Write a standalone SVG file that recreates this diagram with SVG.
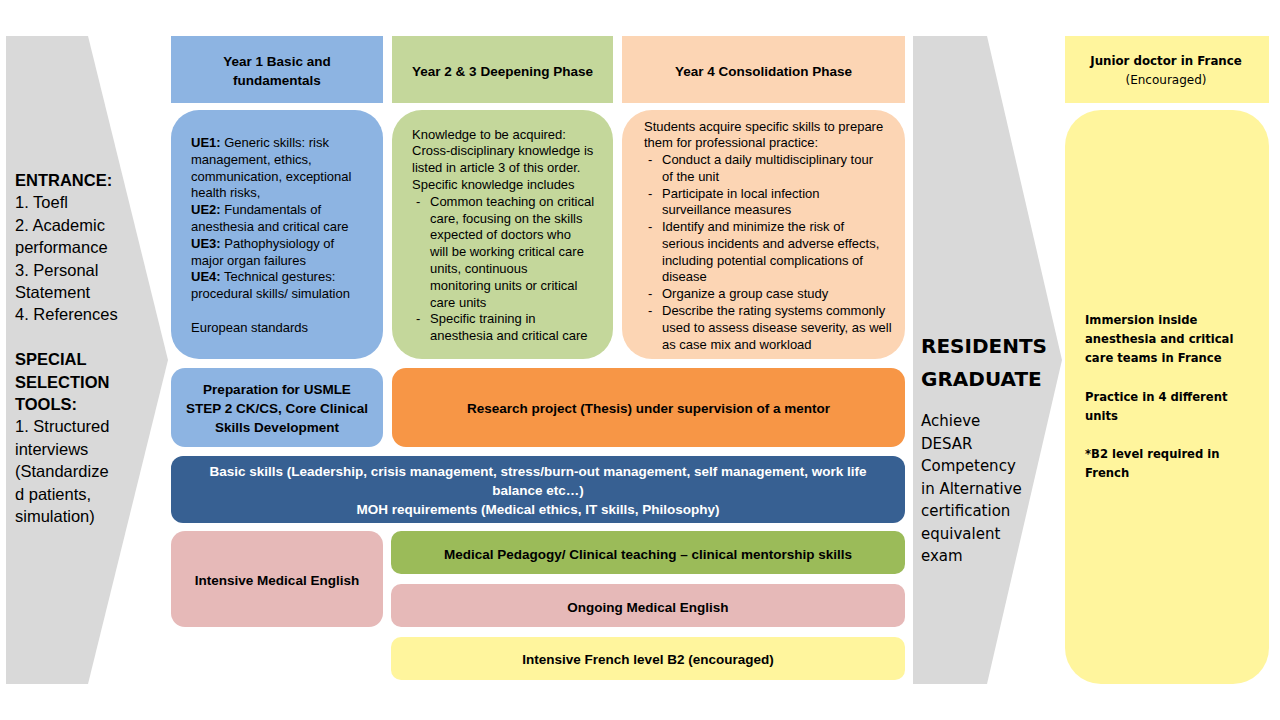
<svg xmlns="http://www.w3.org/2000/svg" width="1280" height="720" viewBox="0 0 1280 720">
<style>
.t{font-family:"Liberation Sans",Arial,sans-serif;font-size:13px;fill:#000}
.b{font-family:"Liberation Sans",Arial,sans-serif;font-size:13.5px;font-weight:bold;fill:#000}
.c{text-anchor:middle}
.w{fill:#fff}
.l{font-family:"Liberation Sans",Arial,sans-serif;font-size:16.5px;fill:#000}
.v{font-family:"DejaVu Sans",Verdana,sans-serif;fill:#000}
.blue{fill:#8DB4E2}.green{fill:#C4D79B}.peach{fill:#FCD5B4}.gray{fill:#D9D9D9}
.orange{fill:#F79646}.navy{fill:#376092}.pink{fill:#E6B9B8}.lgreen{fill:#9BBB59}.yellow{fill:#FFF59D}
</style>
<rect width="1280" height="720" fill="#fff"/>

<g id="entrance">
<polygon class="gray" points="6,36 88,36 168,360 88,684 6,684"/>
<text class="l" x="15" y="186"><tspan font-weight="bold">ENTRANCE:</tspan><tspan x="15" dy="22.4">1. Toefl</tspan><tspan x="15" dy="22.4">2. Academic</tspan><tspan x="15" dy="22.4">performance</tspan><tspan x="15" dy="22.4">3. Personal</tspan><tspan x="15" dy="22.4">Statement</tspan><tspan x="15" dy="22.4">4. References</tspan><tspan x="15" dy="44.8" font-weight="bold">SPECIAL</tspan><tspan x="15" dy="22.4" font-weight="bold">SELECTION</tspan><tspan x="15" dy="22.4" font-weight="bold">TOOLS:</tspan><tspan x="15" dy="22.4">1. Structured</tspan><tspan x="15" dy="22.4">interviews</tspan><tspan x="15" dy="22.4">(Standardize</tspan><tspan x="15" dy="22.4">d patients,</tspan><tspan x="15" dy="22.4">simulation)</tspan></text>
</g>

<g id="year1-header">
<rect class="blue" x="171" y="36" width="212" height="67"/>
<text class="b c" x="277" y="65.5">Year 1 Basic and<tspan x="277" dy="19">fundamentals</tspan></text>
</g>
<g id="year23-header">
<rect class="green" x="392" y="36" width="221" height="67"/>
<text class="b c" x="502.5" y="75.5">Year 2 &amp; 3 Deepening Phase</text>
</g>
<g id="year4-header">
<rect class="peach" x="622" y="36" width="283" height="67"/>
<text class="b c" x="763.5" y="75.5">Year 4 Consolidation Phase</text>
</g>

<g id="year1-content">
<rect class="blue" x="171" y="110" width="212" height="249" rx="28"/>
<text class="t" x="191" y="147"><tspan font-weight="bold">UE1:</tspan> Generic skills: risk<tspan x="191" dy="16.8">management, ethics,</tspan><tspan x="191" dy="16.8">communication, exceptional</tspan><tspan x="191" dy="16.8">health risks,</tspan><tspan x="191" dy="16.8" font-weight="bold">UE2:</tspan> Fundamentals of<tspan x="191" dy="16.8">anesthesia and critical care</tspan><tspan x="191" dy="16.8" font-weight="bold">UE3:</tspan> Pathophysiology of<tspan x="191" dy="16.8">major organ failures</tspan><tspan x="191" dy="16.8" font-weight="bold">UE4:</tspan> Technical gestures:<tspan x="191" dy="16.8">procedural skills/ simulation</tspan><tspan x="191" dy="33.6">European standards</tspan></text>
</g>

<g id="year23-content">
<rect class="green" x="392" y="110" width="221" height="249" rx="30"/>
<text class="t" x="412" y="138.5">Knowledge to be acquired:<tspan x="412" dy="16.8">Cross-disciplinary knowledge is</tspan><tspan x="412" dy="16.8">listed in article 3 of this order.</tspan><tspan x="412" dy="16.8">Specific knowledge includes</tspan><tspan x="416" dy="16.8">-</tspan><tspan x="430">Common teaching on critical</tspan><tspan x="430" dy="16.8">care, focusing on the skills</tspan><tspan x="430" dy="16.8">expected of doctors who</tspan><tspan x="430" dy="16.8">will be working critical care</tspan><tspan x="430" dy="16.8">units, continuous</tspan><tspan x="430" dy="16.8">monitoring units or critical</tspan><tspan x="430" dy="16.8">care units</tspan><tspan x="416" dy="16.8">-</tspan><tspan x="430">Specific training in</tspan><tspan x="430" dy="16.8">anesthesia and critical care</tspan></text>
</g>

<g id="year4-content">
<rect class="peach" x="622" y="110" width="283" height="249" rx="30"/>
<text class="t" x="644" y="130.5">Students acquire specific skills to prepare<tspan x="644" dy="16.77">them for professional practice:</tspan><tspan x="648" dy="16.77">-</tspan><tspan x="662">Conduct a daily multidisciplinary tour</tspan><tspan x="662" dy="16.77">of the unit</tspan><tspan x="648" dy="16.77">-</tspan><tspan x="662">Participate in local infection</tspan><tspan x="662" dy="16.77">surveillance measures</tspan><tspan x="648" dy="16.77">-</tspan><tspan x="662">Identify and minimize the risk of</tspan><tspan x="662" dy="16.77">serious incidents and adverse effects,</tspan><tspan x="662" dy="16.77">including potential complications of</tspan><tspan x="662" dy="16.77">disease</tspan><tspan x="648" dy="16.77">-</tspan><tspan x="662">Organize a group case study</tspan><tspan x="648" dy="16.77">-</tspan><tspan x="662">Describe the rating systems commonly</tspan><tspan x="662" dy="16.77">used to assess disease severity, as well</tspan><tspan x="662" dy="16.77">as case mix and workload</tspan></text>
</g>

<g id="usmle">
<rect class="blue" x="171" y="368" width="212" height="79" rx="14"/>
<text class="b c" x="277" y="393.5">Preparation for USMLE<tspan x="277" dy="19">STEP 2 CK/CS, Core Clinical</tspan><tspan x="277" dy="19">Skills Development</tspan></text>
</g>
<g id="research">
<rect class="orange" x="392" y="368" width="513" height="79" rx="14"/>
<text class="b c" x="648.5" y="412.5">Research project (Thesis) under supervision of a mentor</text>
</g>
<g id="basic-skills">
<rect class="navy" x="171" y="456" width="734" height="67" rx="12"/>
<text class="b c w" x="538" y="475.5">Basic skills (Leadership, crisis management, stress/burn-out management, self management, work life<tspan x="538" dy="19">balance etc…)</tspan><tspan x="538" dy="19">MOH requirements (Medical ethics, IT skills, Philosophy)</tspan></text>
</g>
<g id="intensive-english">
<rect class="pink" x="171" y="531" width="212" height="96" rx="14"/>
<text class="b c" x="277" y="584.5">Intensive Medical English</text>
</g>
<g id="pedagogy">
<rect class="lgreen" x="391" y="531" width="514" height="43" rx="10"/>
<text class="b c" x="648" y="558.5">Medical Pedagogy/ Clinical teaching – clinical mentorship skills</text>
</g>
<g id="ongoing-english">
<rect class="pink" x="391" y="584" width="514" height="43" rx="10"/>
<text class="b c" x="648" y="611.5">Ongoing Medical English</text>
</g>
<g id="french">
<rect class="yellow" x="391" y="637" width="514" height="43" rx="10"/>
<text class="b c" x="648" y="663.5">Intensive French level B2 (encouraged)</text>
</g>

<g id="graduate">
<polygon class="gray" points="913,36 987,36 1062,360 987,684 913,684"/>
<text class="v" x="921" y="353" font-size="20" font-weight="bold">RESIDENTS<tspan x="921" dy="33">GRADUATE</tspan></text>
<text class="v" x="921" y="426" font-size="15">Achieve<tspan x="921" dy="22.5">DESAR</tspan><tspan x="921" dy="22.5">Competency</tspan><tspan x="921" dy="22.5">in Alternative</tspan><tspan x="921" dy="22.5">certification</tspan><tspan x="921" dy="22.5">equivalent</tspan><tspan x="921" dy="22.5">exam</tspan></text>
</g>

<g id="junior-doctor">
<rect class="yellow" x="1065" y="36" width="204" height="67"/>
<text class="v c" x="1166" y="65" font-size="11.8" font-weight="bold">Junior doctor in France</text>
<text class="v c" x="1166" y="84" font-size="12">(Encouraged)</text>
</g>
<g id="immersion">
<rect class="yellow" x="1065" y="110" width="204" height="574" rx="36"/>
<text class="v" x="1085" y="324" font-size="11.6" font-weight="bold">Immersion inside<tspan x="1085" dy="19">anesthesia and critical</tspan><tspan x="1085" dy="19">care teams in France</tspan><tspan x="1085" dy="39">Practice in 4 different</tspan><tspan x="1085" dy="19">units</tspan><tspan x="1085" dy="38">*B2 level required in</tspan><tspan x="1085" dy="19">French</tspan></text>
</g>
<g id="connectors"></g>
</svg>
